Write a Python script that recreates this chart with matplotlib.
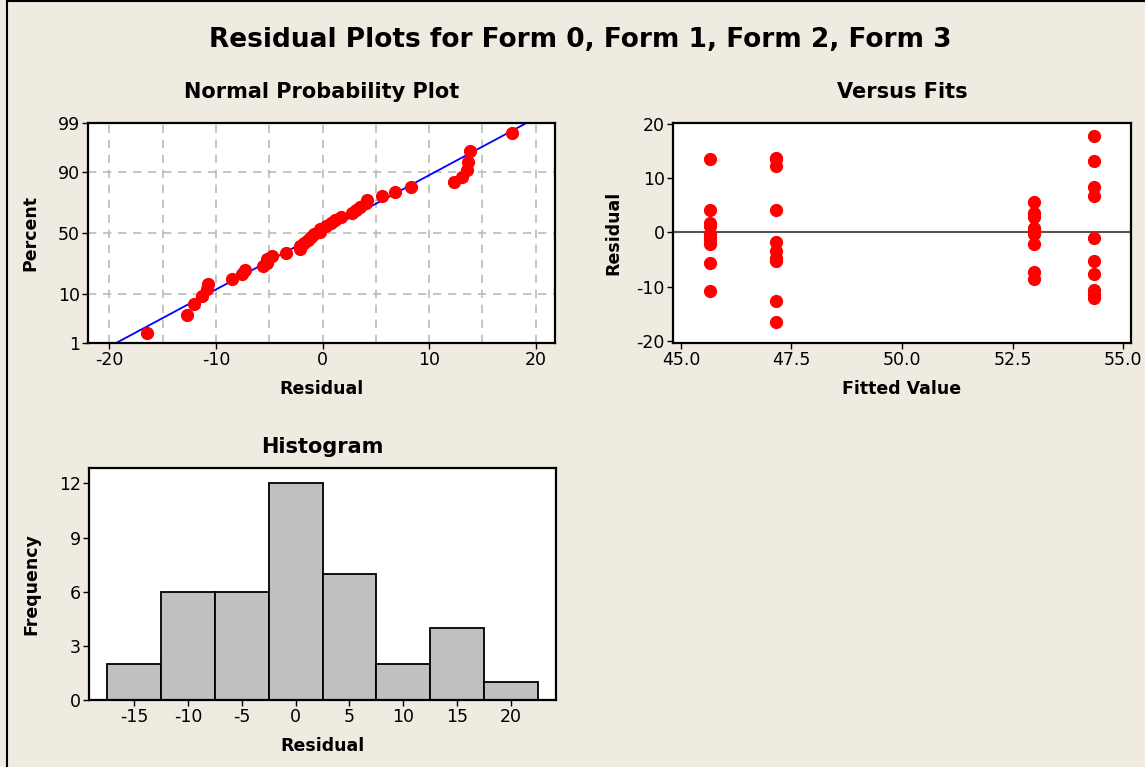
import matplotlib
matplotlib.use("Agg")
import matplotlib.pyplot as plt
from matplotlib.lines import Line2D
from matplotlib.ticker import MultipleLocator
from statistics import NormalDist
import numpy as np

# fitted values of the four forms and their residuals
fits = [45.66, 47.15, 52.98, 54.34]
res_form0 = [13.6, 4.1, 1.7, 1.2, -0.2, -0.8, -1.4, -2.1, -5.6, -10.8]
res_form1 = [13.8, 13.5, 12.3, 4.2, -1.7, -3.4, -4.7, -5.2, -12.7, -16.5]
res_form2 = [5.6, 3.5, 3.1, 2.8, 0.8, 0.3, -0.2, -2.1, -7.3, -8.5]
res_form3 = [17.8, 13.1, 8.3, 6.8, -1.1, -5.2, -7.6, -10.7, -11.3, -12.1]
groups = [res_form0, res_form1, res_form2, res_form3]

pct_ticks = [1, 10, 50, 90, 99]
hist_edges = [-17.5, -12.5, -7.5, -2.5, 2.5, 7.5, 12.5, 17.5, 22.5]

BG = "#EFEBE1"
W, H = 1145, 767
nd = NormalDist()
plt.rcParams["axes.unicode_minus"] = False

fig = plt.figure(figsize=(W / 100, H / 100), dpi=100, facecolor=BG)


def px_axes(l, t, r, b):
    return fig.add_axes([l / W, 1 - b / H, (r - l) / W, (b - t) / H])


def style(ax):
    ax.set_facecolor("white")
    for s in ax.spines.values():
        s.set_linewidth(1.6)
        s.set_color("black")
    ax.tick_params(direction="out", length=4, width=1, labelsize=12.5, pad=2)


lab = dict(fontsize=12.5, fontweight="bold")
ttl = dict(fontsize=15, fontweight="bold")

all_res = np.concatenate(groups)

# --- normal probability plot
ax1 = px_axes(88, 123, 555, 343)
style(ax1)
srt = np.sort(all_res)
n = len(srt)
z = [nd.inv_cdf((i - 0.3) / (n + 0.4)) for i in range(1, n + 1)]
zlo, zhi = nd.inv_cdf(0.01), nd.inv_cdf(0.99)
mu, sd = all_res.mean(), all_res.std(ddof=1)
zz = np.linspace(zlo, zhi, 50)
ax1.plot(mu + sd * zz, zz, color="blue", lw=1.3, zorder=2)
ax1.plot(srt, z, "o", color="red", ms=8.5, mec="red", zorder=3)
ax1.set_xlim(-22, 21.8)
ax1.set_ylim(zlo, zhi)
ax1.set_xticks([-20, -10, 0, 10, 20])
ax1.xaxis.set_minor_locator(MultipleLocator(5))
ax1.tick_params(axis="x", which="minor", length=0)
ax1.set_yticks([nd.inv_cdf(p / 100) for p in pct_ticks])
ax1.set_yticklabels([str(p) for p in pct_ticks])
ax1.grid(True, which="both", axis="x", color="#BBBBBB", ls=(0, (5, 4)), lw=1.2)
ax1.grid(True, which="major", axis="y", color="#BBBBBB", ls=(0, (5, 4)), lw=1.2)
ax1.set_axisbelow(True)
ax1.set_xlabel("Residual", labelpad=8, **lab)
ax1.set_ylabel("Percent", labelpad=13, **lab)
ax1.set_title("Normal Probability Plot", pad=18, **ttl)

# --- versus fits
ax2 = px_axes(673, 123, 1131, 343)
style(ax2)
ax2.axhline(0, color="#555555", lw=1.5, zorder=1)
for f, r in zip(fits, groups):
    ax2.plot([f] * len(r), r, "o", color="red", ms=8.5, mec="red", zorder=3)
ax2.set_xlim(44.82, 55.18)
ax2.set_ylim(-20.4, 20.2)
ax2.set_xticks([45.0, 47.5, 50.0, 52.5, 55.0])
ax2.set_xticklabels(["45.0", "47.5", "50.0", "52.5", "55.0"])
ax2.set_yticks([-20, -10, 0, 10, 20])
ax2.set_xlabel("Fitted Value", labelpad=8, **lab)
ax2.set_ylabel("Residual", labelpad=10, **lab)
ax2.set_title("Versus Fits", pad=18, **ttl)

# --- histogram
ax3 = px_axes(89, 468, 556, 700)
style(ax3)
ax3.hist(all_res, bins=hist_edges, color="#C0C0C0", edgecolor="black", linewidth=1.3)
ax3.set_xlim(-19.2, 24.2)
ax3.set_ylim(0, 12.85)
ax3.set_xticks([-15, -10, -5, 0, 5, 10, 15, 20])
ax3.set_yticks([0, 3, 6, 9, 12])
ax3.set_xlabel("Residual", labelpad=8, **lab)
ax3.set_ylabel("Frequency", labelpad=13, **lab)
ax3.set_title("Histogram", pad=11, **ttl)

fig.text(580 / W, 1 - 40 / H, "Residual Plots for Form 0, Form 1, Form 2, Form 3",
         ha="center", va="center", fontsize=19, fontweight="bold")

# window frame at left and top
fig.add_artist(Line2D([7 / W, 7 / W], [0, 1 - 1 / H], transform=fig.transFigure, color="black", lw=1.5))
fig.add_artist(Line2D([7 / W, 1], [1 - 1 / H, 1 - 1 / H], transform=fig.transFigure, color="black", lw=1.5))

fig.savefig("out.png", dpi=100, facecolor=BG)
